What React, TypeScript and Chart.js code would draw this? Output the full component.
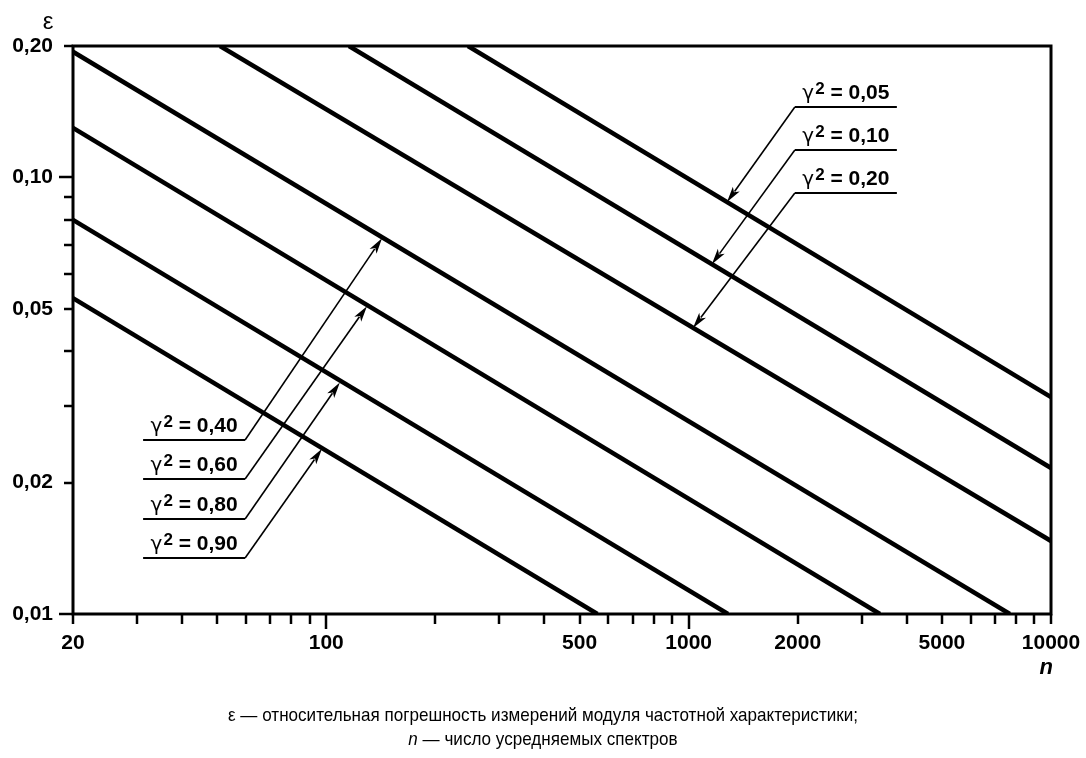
import React, { useEffect, useRef } from 'react';
import { Chart, registerables } from 'chart.js';

Chart.register(...registerables);

const W = 1086;
const H = 758;

// Curves: gamma^2 values with their start and end points (n, epsilon)
const gammaSq = ['0,05', '0,10', '0,20', '0,40', '0,60', '0,80', '0,90'];
const startN = [246, 115.5, 50.9, 20, 20, 20, 20];
const startEps = [0.2, 0.2, 0.2, 0.194, 0.1298, 0.0799, 0.0529];
const endN = [10000, 10000, 10000, 7700, 3372, 1284, 560];
const endEps = [0.0314, 0.0216, 0.0147, 0.01, 0.01, 0.01, 0.01];

// Annotation arrows: tip on the curve and label anchor (in data coordinates)
const tipN = [1276, 1159, 1028, 142.5, 129.5, 109, 97.3];
const tipEps = [0.0878, 0.0633, 0.0452, 0.0726, 0.0507, 0.0339, 0.0239];
const anchorN = [1964, 1964, 1964, 59.7, 59.7, 59.7, 59.7];
const anchorEps = [0.145, 0.1156, 0.0921, 0.02503, 0.02038, 0.0165, 0.01344];
const labelSide = ['right', 'right', 'right', 'left', 'left', 'left', 'left'];

// Axes
const xTickValues = [20, 30, 40, 50, 60, 70, 80, 90, 100, 200, 300, 400, 500, 600, 700, 800, 900, 1000,
  2000, 3000, 4000, 5000, 6000, 7000, 8000, 9000, 10000];
const xTickLabels = [20, 100, 500, 1000, 2000, 5000, 10000];
const xLongTicks = [100, 1000];
const yTickValues = [0.01, 0.02, 0.03, 0.04, 0.05, 0.06, 0.07, 0.08, 0.09, 0.1, 0.2];
const yTickLabels = [0.01, 0.02, 0.05, 0.1, 0.2];
const yLongTicks = [0.01, 0.1];

const captionLine1 = 'ε — относительная погрешность измерений модуля частотной характеристики;';
const captionLine2Var = 'n';
const captionLine2Rest = ' — число усредняемых спектров';

const FONT = '"Liberation Sans", Arial, sans-serif';
const NARROW = '"Liberation Sans Narrow", "Liberation Sans", Arial, sans-serif';
const GREEK = '"DejaVu Sans", sans-serif';

const near = (arr: number[], v: number) => arr.some((a) => Math.abs(a - v) / a < 1e-6);

function drawGammaLabel(ctx: CanvasRenderingContext2D, cx: number, baseY: number, val: string) {
  const gFont = `20px ${GREEK}`;
  const mainFont = `bold 21px ${FONT}`;
  const supFont = `bold 17px ${FONT}`;
  ctx.font = gFont;
  const wG = ctx.measureText('γ').width;
  const rest = ' = ' + val;
  ctx.font = mainFont;
  const wR = ctx.measureText(rest).width;
  ctx.font = supFont;
  const wS = ctx.measureText('2').width;
  const gap = 1;
  const total = wG + gap + wS + wR;
  const x0 = cx - total / 2;
  ctx.textAlign = 'left';
  ctx.textBaseline = 'alphabetic';
  ctx.font = gFont;
  ctx.fillText('γ', x0, baseY);
  ctx.font = supFont;
  ctx.fillText('2', x0 + wG + gap, baseY - 5);
  ctx.font = mainFont;
  ctx.fillText(rest, x0 + wG + gap + wS, baseY);
}

const framePlugin = {
  id: 'frameTicks',
  afterDatasetsDraw(chart: any) {
    const { ctx, chartArea, scales } = chart;
    const { left, right, top, bottom } = chartArea;
    const x = scales.x;
    const y = scales.y;
    ctx.save();
    ctx.strokeStyle = '#000';
    ctx.lineCap = 'butt';
    ctx.lineWidth = 2.5;
    xTickValues.forEach((v) => {
      const px = Math.round(x.getPixelForValue(v));
      const len = near(xLongTicks, v) ? 15 : 10;
      ctx.beginPath();
      ctx.moveTo(px, bottom);
      ctx.lineTo(px, bottom + len);
      ctx.stroke();
    });
    yTickValues.forEach((v) => {
      const py = Math.round(y.getPixelForValue(v));
      const len = near(yLongTicks, v) ? 14 : 9;
      ctx.beginPath();
      ctx.moveTo(left, py);
      ctx.lineTo(left - len, py);
      ctx.stroke();
    });
    ctx.lineWidth = 3;
    ctx.strokeRect(left, top, right - left, bottom - top);
    ctx.restore();
  },
};

const annotPlugin = {
  id: 'annotations',
  afterDraw(chart: any) {
    const { ctx, scales } = chart;
    const x = scales.x;
    const y = scales.y;
    const UL = 102;
    const AL = 16;
    const AW = 4.2;
    ctx.save();
    ctx.strokeStyle = '#000';
    ctx.fillStyle = '#000';
    gammaSq.forEach((g, i) => {
      const ax = x.getPixelForValue(anchorN[i]);
      const ay = y.getPixelForValue(anchorEps[i]);
      const tx = x.getPixelForValue(tipN[i]);
      const ty = y.getPixelForValue(tipEps[i]);
      const u0 = labelSide[i] === 'right' ? ax : ax - UL;
      const u1 = u0 + UL;
      ctx.lineWidth = 2;
      ctx.beginPath();
      ctx.moveTo(u0, ay);
      ctx.lineTo(u1, ay);
      ctx.stroke();
      const dx = tx - ax;
      const dy = ty - ay;
      const len = Math.hypot(dx, dy);
      const ux = dx / len;
      const uy = dy / len;
      const bx = tx - ux * AL;
      const by = ty - uy * AL;
      ctx.lineWidth = 1.6;
      ctx.beginPath();
      ctx.moveTo(ax, ay);
      ctx.lineTo(bx + ux * 3, by + uy * 3);
      ctx.stroke();
      ctx.beginPath();
      ctx.moveTo(tx, ty);
      ctx.lineTo(bx - uy * AW, by + ux * AW);
      ctx.lineTo(bx + ux * 4, by + uy * 4);
      ctx.lineTo(bx + uy * AW, by - ux * AW);
      ctx.closePath();
      ctx.fill();
      drawGammaLabel(ctx, (u0 + u1) / 2, ay - 8, g);
    });

    // axis symbols
    const { chartArea } = chart;
    ctx.textAlign = 'center';
    ctx.textBaseline = 'middle';
    ctx.font = `24px ${FONT}`;
    ctx.fillText('ε', chartArea.left - 25, 22);
    ctx.textAlign = 'right';
    ctx.font = `italic bold 22px ${FONT}`;
    ctx.fillText('n', chartArea.right + 2, 668);

    // caption (condensed to the reference width)
    const capFont = `19px ${NARROW}`;
    const capItalic = `italic 19px ${NARROW}`;
    ctx.font = capFont;
    const w1 = ctx.measureText(captionLine1).width;
    const sxScale = Math.min(1, 630 / w1);
    ctx.save();
    ctx.translate(543, 0);
    ctx.scale(sxScale, 1);
    ctx.textBaseline = 'middle';
    ctx.textAlign = 'center';
    ctx.fillText(captionLine1, 0, 716);
    ctx.font = capItalic;
    const wv = ctx.measureText(captionLine2Var).width;
    ctx.font = capFont;
    const wr = ctx.measureText(captionLine2Rest).width;
    const sx = -(wv + wr) / 2;
    ctx.textAlign = 'left';
    ctx.font = capItalic;
    ctx.fillText(captionLine2Var, sx, 740);
    ctx.font = capFont;
    ctx.fillText(captionLine2Rest, sx + wv, 740);
    ctx.restore();
    ctx.restore();
  },
};

export default function App() {
  const ref = useRef<HTMLCanvasElement | null>(null);

  useEffect(() => {
    if (!ref.current) return;
    const chart = new Chart(ref.current, {
      type: 'line',
      data: {
        datasets: gammaSq.map((g, i) => ({
          label: 'γ² = ' + g,
          data: [
            { x: startN[i], y: startEps[i] },
            { x: endN[i], y: endEps[i] },
          ],
          borderColor: '#000',
          borderWidth: 4.5,
          pointRadius: 0,
          fill: false,
          tension: 0,
          borderCapStyle: 'butt' as const,
        })),
      },
      options: {
        animation: false,
        responsive: false,
        maintainAspectRatio: false,
        devicePixelRatio: 1,
        layout: { padding: { left: 0, top: 46, right: 35, bottom: 84 } },
        plugins: {
          legend: { display: false },
          tooltip: { enabled: false },
          title: { display: false },
        },
        scales: {
          x: {
            type: 'logarithmic',
            min: 20,
            max: 10000,
            grid: { display: false, drawTicks: false },
            border: { display: false },
            afterBuildTicks: (scale: any) => {
              scale.ticks = xTickValues.map((v) => ({ value: v }));
            },
            afterFit: (scale: any) => {
              scale.height = 60;
              scale.paddingLeft = 0;
              scale.paddingRight = 0;
            },
            ticks: {
              autoSkip: false,
              maxRotation: 0,
              minRotation: 0,
              padding: 17,
              color: '#000',
              font: { family: FONT, size: 21, weight: 'bold' },
              callback: (v: any) => (near(xTickLabels, Number(v)) ? String(Number(v)) : ''),
            },
          },
          y: {
            type: 'logarithmic',
            min: 0.01,
            max: 0.2,
            grid: { display: false, drawTicks: false },
            border: { display: false },
            afterBuildTicks: (scale: any) => {
              scale.ticks = yTickValues.map((v) => ({ value: v }));
            },
            afterFit: (scale: any) => {
              scale.width = 73;
              scale.paddingTop = 0;
              scale.paddingBottom = 0;
            },
            ticks: {
              autoSkip: false,
              padding: 20,
              color: '#000',
              font: { family: FONT, size: 21, weight: 'bold' },
              callback: (v: any) =>
                near(yTickLabels, Number(v)) ? Number(v).toFixed(2).replace('.', ',') : '',
            },
          },
        },
      },
      plugins: [framePlugin, annotPlugin],
    } as any);
    return () => chart.destroy();
  }, []);

  return (
    <div style={{ position: 'absolute', left: 0, top: 0, width: W, height: H, background: '#fff' }}>
      <canvas ref={ref} width={W} height={H} style={{ display: 'block', width: W, height: H }} />
    </div>
  );
}
